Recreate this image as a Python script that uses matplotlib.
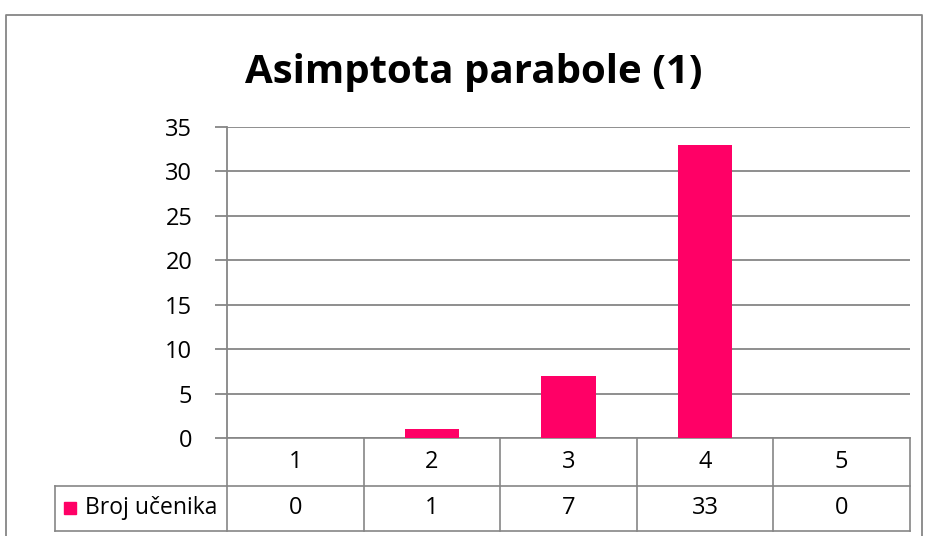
import matplotlib
matplotlib.use("Agg")
import matplotlib.pyplot as plt

categories = ["1", "2", "3", "4", "5"]
values = [0, 1, 7, 33, 0]
series_name = "Broj učenika"
title = "Asimptota parabole (1)"
yticks = [0, 5, 10, 15, 20, 25, 30, 35]

W, H = 926, 536
DPI = 100
FONT = ["Open Sans", "DejaVu Sans"]
PINK = "#FF0066"
GRID = "#868686"
FS = 17

fig = plt.figure(figsize=(W / DPI, H / DPI), dpi=DPI)

# plot-area in pixel coords
L, R, T, B = 227, 910, 127, 438
ax = fig.add_axes([L / W, 1 - B / H, (R - L) / W, (B - T) / H])
n = len(categories)
x = list(range(n))
ax.bar(x, values, width=0.4, color=PINK, zorder=3)
ax.set_xlim(-0.5, n - 0.5)
ax.set_ylim(0, 35)
ax.set_yticks(yticks)
ax.set_yticklabels([str(v) for v in yticks], fontfamily=FONT, fontsize=FS)
ax.set_xticks([])
for s in ["top", "right", "bottom"]:
    ax.spines[s].set_visible(False)
ax.spines["left"].set_color(GRID)
ax.spines["left"].set_linewidth(1.3)
ax.tick_params(axis="y", length=9, color=GRID, width=1.3, pad=16)
ax.yaxis.grid(True, color=GRID, linewidth=1.3, zorder=0)
ax.set_axisbelow(True)
ax.patch.set_alpha(0)

# overlay for table & border, pixel coordinates
ov = fig.add_axes([0, 0, 1, 1], zorder=-1)
ov.set_xlim(0, W)
ov.set_ylim(H, 0)
ov.axis("off")

# outer border
ov.plot([6, 6, 922, 922], [H + 5, 15, 15, H + 5], color=GRID, lw=1.3)

# title
ov.text(474, 72, title, fontfamily=FONT, fontweight="bold",
        fontsize=29, ha="center", va="center", color="black")

# table
row0, row1, row2 = B, 486, 531
col_w = (R - L) / n
cols = [L + i * col_w for i in range(n + 1)]
lc = GRID
lw = 1.2
ov.plot([L, R], [row0, row0], color=lc, lw=lw)
ov.plot([55, R], [row1, row1], color=lc, lw=lw)
ov.plot([55, R], [row2, row2], color=lc, lw=lw)
for c in cols:
    ov.plot([c, c], [row0, row2], color=lc, lw=lw)
ov.plot([55, 55], [row1, row2], color=lc, lw=lw)

for i in range(n):
    cx = (cols[i] + cols[i + 1]) / 2
    ov.text(cx, (row0 + row1) / 2, categories[i], fontfamily=FONT, fontsize=FS,
            ha="center", va="center")
    ov.text(cx, (row1 + row2) / 2, str(values[i]), fontfamily=FONT, fontsize=FS,
            ha="center", va="center")

ov.add_patch(plt.Rectangle((64, 502), 12, 12, color=PINK))
ov.text(85, (row1 + row2) / 2, series_name, fontfamily=FONT, fontsize=16.5,
        ha="left", va="center")

fig.savefig("out.png", dpi=DPI)
